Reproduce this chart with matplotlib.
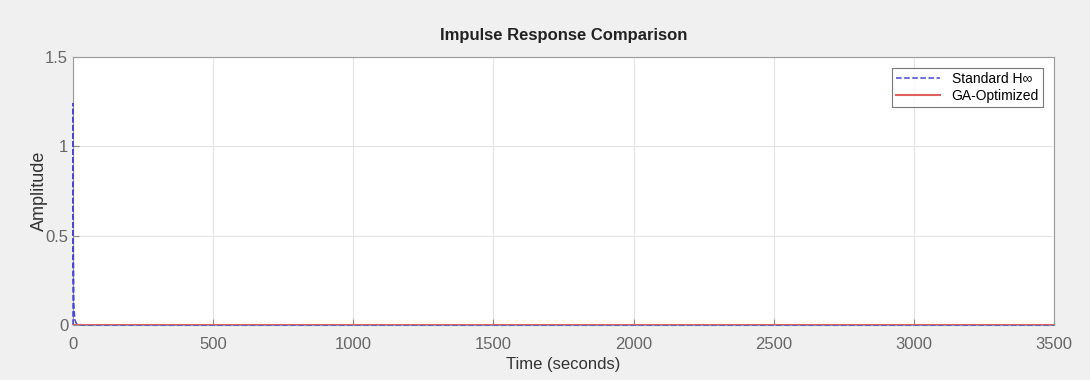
import numpy as np
import matplotlib.pyplot as plt

plt.rcParams['font.family'] = ['Liberation Sans', 'DejaVu Sans']

# impulse response samples
t_std = [0, 0, 1, 3, 6, 12, 30, 3500]
y_std = [0, 1.24, 0.45, 0.12, 0.03, 0.008, 0, 0]
t_ga = [0, 3500]
y_ga = [0, 0]

xticks = [0, 500, 1000, 1500, 2000, 2500, 3000, 3500]
yticks = [0, 0.5, 1, 1.5]
ytick_labels = ['0', '0.5', '1', '1.5']

fig = plt.figure(figsize=(10.9, 3.8), dpi=100, facecolor='#f0f0f0')
ax = fig.add_axes([0.067, 0.145, 0.9, 0.705])
ax.set_facecolor('white')

ax.plot(t_std, y_std, '--', color='#4848d0', linewidth=1.1, label='Standard H∞',
        clip_on=False, zorder=3)
ax.plot(t_ga, y_ga, '-', color='#e06060', linewidth=1.5, label='GA-Optimized', zorder=4)

ax.set_xlim(0, 3500)
ax.set_ylim(0, 1.5)
ax.set_xticks(xticks)
ax.set_yticks(yticks)
ax.set_yticklabels(ytick_labels)
ax.grid(True, color='#e4e4e4', linewidth=0.8)
ax.tick_params(colors='#888888', labelcolor='#666666', labelsize=12, direction='in', length=4)
ax.tick_params(axis='x', pad=9)
for s in ax.spines.values():
    s.set_color('#999999')
    s.set_linewidth(0.8)

ax.set_title('Impulse Response Comparison', fontsize=12, fontweight='bold', color='#222222', pad=12)
ax.set_xlabel('Time (seconds)', fontsize=12, color='#333333', labelpad=3)
ax.set_ylabel('Amplitude', fontsize=13, color='#333333', labelpad=-2)

leg = ax.legend(loc='upper right', fontsize=10, frameon=True, fancybox=False,
                edgecolor='#555555', borderpad=0.3, handlelength=3.2, labelspacing=0.2,
                borderaxespad=0.8)
leg.get_frame().set_linewidth(0.8)

fig.savefig('out.png', dpi=100, facecolor=fig.get_facecolor())
